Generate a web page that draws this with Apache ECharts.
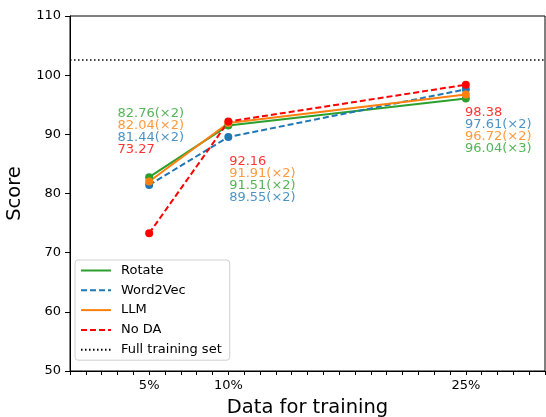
<!DOCTYPE html>
<html>
<head>
<meta charset="utf-8">
<script src="https://cdn.jsdelivr.net/npm/echarts@6/dist/echarts.min.js"></script>
<style>html,body{margin:0;padding:0;background:#fff;}#c{width:546px;height:417px;}</style>
</head>
<body>
<div id="c"></div>
<script>
const xPercents = [5, 10, 25];
const rotate = [82.76, 91.51, 96.04];
const word2vec = [81.44, 89.55, 97.61];
const llm = [82.04, 91.91, 96.72];
const noDA = [73.27, 92.16, 98.38];
const fullTrainingSet = 102.55;
const xTickLabels = [5, 10, 25];

// annotation blocks: [text, colorKey] per line
const anno5 = [["82.76(×2)", "g"], ["82.04(×2)", "o"], ["81.44(×2)", "b"], ["73.27", "r"]];
const anno10 = [["92.16", "r"], ["91.91(×2)", "o"], ["91.51(×2)", "g"], ["89.55(×2)", "b"]];
const anno25 = [["98.38", "r"], ["97.61(×2)", "b"], ["96.72(×2)", "o"], ["96.04(×3)", "g"]];
// anchor (data coords) for each annotation block
const annoAnchors = [[3.0, 90.5], [10.05, 82.3], [24.95, 90.6]];

const C = { g: '#2ca02c', b: '#1f77b4', o: '#ff7f0e', r: '#ff0000' };
const FONT = 'DejaVu Sans';

function pts(vals) { return xPercents.map((x, i) => [x, vals[i]]); }
function richText(block) { return block.map(l => '{' + l[1] + '|' + l[0] + '}').join('\n'); }
const rich = {};
Object.keys(C).forEach(k => rich[k] = { color: C[k], fontSize: 13, lineHeight: 12, fontFamily: FONT });

const blocks = [anno5, anno10, anno25];

function lineSeries(name, vals, color, dashed) {
  return {
    name: name, type: 'line', data: pts(vals),
    symbol: 'circle', symbolSize: 8, showSymbol: true,
    itemStyle: { color: color },
    lineStyle: { color: color, width: 2, type: dashed ? [6, 3] : 'solid' },
    emphasis: { disabled: true }, animation: false
  };
}

const chart = echarts.init(document.getElementById('c'), null, { renderer: 'canvas' });
chart.setOption({
  animation: false,
  textStyle: { fontFamily: FONT },
  grid: { left: 70, right: 1, top: 16, bottom: 46, show: true, borderColor: '#000', borderWidth: 1,
          containLabel: false, outerBoundsMode: 'none' },
  xAxis: {
    type: 'value', min: 0, max: 30, interval: 1,
    name: 'Data for training', nameLocation: 'middle', nameGap: 27,
    nameTextStyle: { fontSize: 19.5, color: '#000', fontFamily: FONT },
    axisLine: { show: true, lineStyle: { color: '#000', width: 1 } },
    axisTick: { show: true, length: 4, lineStyle: { color: '#000' } },
    axisLabel: {
      fontSize: 13, color: '#000', margin: 8, fontFamily: FONT, showMinLabel: true, showMaxLabel: true,
      formatter: v => xTickLabels.includes(v) ? v + '%' : ''
    },
    splitLine: { show: false }
  },
  yAxis: {
    type: 'value', min: 50, max: 110, interval: 10,
    name: 'Score', nameLocation: 'middle', nameGap: 38,
    nameTextStyle: { fontSize: 19.5, color: '#000', fontFamily: FONT },
    axisLine: { show: true, lineStyle: { color: '#000', width: 1 } },
    axisTick: { show: true, length: 5, lineStyle: { color: '#000' } },
    axisLabel: { fontSize: 13, color: '#000', margin: 9, fontFamily: FONT },
    splitLine: { show: false }
  },
  legend: {
    orient: 'vertical', left: 75, top: 260,
    backgroundColor: '#fff', borderColor: '#d0d0d0', borderWidth: 1, borderRadius: 3,
    padding: [4, 8, 4, 5], itemWidth: 30, itemHeight: 14, itemGap: 6.8,
    itemStyle: { opacity: 0 },
    textStyle: { fontSize: 13, color: '#000', fontFamily: FONT, padding: [0, 0, 0, 5] },
    data: ['Rotate', 'Word2Vec', 'LLM', 'No DA', 'Full training set']
  },
  series: [
    lineSeries('Rotate', rotate, C.g, false),
    lineSeries('Word2Vec', word2vec, C.b, true),
    lineSeries('LLM', llm, C.o, false),
    lineSeries('No DA', noDA, C.r, true),
    {
      name: 'Full training set', type: 'line', data: [], symbol: 'none',
      itemStyle: { color: '#000' },
      lineStyle: { color: '#000', width: 1.5, type: [1.5, 2.5] },
      markLine: {
        silent: true, symbol: 'none', label: { show: false },
        lineStyle: { color: '#000', width: 1.5, type: [1.5, 2.5] },
        data: [{ yAxis: fullTrainingSet }]
      },
      animation: false
    },
    {
      type: 'scatter', symbolSize: 0, silent: true, z: 10,
      data: annoAnchors.map((a, i) => ({ value: a, blockIndex: i })),
      label: {
        show: true, position: [0, 0], align: 'left', verticalAlign: 'middle',
        formatter: p => richText(blocks[p.data.blockIndex]), rich: rich
      },
      animation: false
    }
  ]
});
</script>
</body>
</html>
